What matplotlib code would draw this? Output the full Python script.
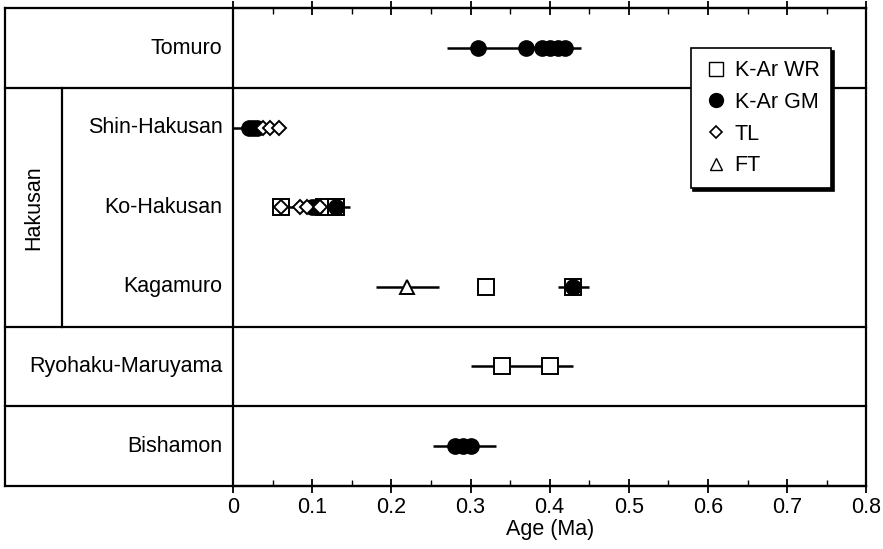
import numpy as np
import matplotlib
matplotlib.use('Agg')
import matplotlib.pyplot as plt
from matplotlib.lines import Line2D
import matplotlib.transforms as mtransforms

plt.rcParams['font.family'] = ['Liberation Sans', 'DejaVu Sans']

# row names, top to bottom
rows = ['Tomuro', 'Shin-Hakusan', 'Ko-Hakusan', 'Kagamuro', 'Ryohaku-Maruyama', 'Bishamon']
ypos = {name: len(rows) - 1 - i for i, name in enumerate(rows)}

# age ranges (error bars)
range_rows = ['Tomuro', 'Shin-Hakusan', 'Ko-Hakusan', 'Kagamuro', 'Kagamuro', 'Ryohaku-Maruyama', 'Bishamon']
range_lo = [0.27, 0.0, 0.06, 0.18, 0.41, 0.30, 0.252]
range_hi = [0.44, 0.03, 0.148, 0.26, 0.45, 0.43, 0.332]

# K-Ar whole rock
wr_rows = ['Ko-Hakusan', 'Ko-Hakusan', 'Ko-Hakusan', 'Kagamuro', 'Kagamuro', 'Ryohaku-Maruyama', 'Ryohaku-Maruyama']
wr_ages = [0.06, 0.115, 0.13, 0.32, 0.43, 0.34, 0.40]

# K-Ar groundmass
gm_rows = ['Tomuro'] * 6 + ['Shin-Hakusan'] * 3 + ['Ko-Hakusan'] * 3 + ['Kagamuro'] + ['Bishamon'] * 3
gm_ages = [0.31, 0.37, 0.39, 0.40, 0.41, 0.42,
           0.02, 0.025, 0.03,
           0.10, 0.105, 0.13,
           0.43,
           0.28, 0.29, 0.30]

# thermoluminescence
tl_rows = ['Shin-Hakusan'] * 3 + ['Ko-Hakusan'] * 4
tl_ages = [0.038, 0.047, 0.058, 0.06, 0.085, 0.093, 0.11]

# fission track
ft_rows = ['Kagamuro']
ft_ages = [0.22]

fs = 15.5

fig = plt.figure(figsize=(8.83, 5.49), dpi=100)
ax = fig.add_axes([0.264, 0.115, 0.717, 0.870])

ax.hlines([ypos[r] for r in range_rows], range_lo, range_hi, color='black', lw=1.8, zorder=2)
ax.plot(wr_ages, [ypos[r] for r in wr_rows], 's', ms=11.5, mfc='white', mec='black', mew=1.4, ls='none', zorder=3)
ax.plot(gm_ages, [ypos[r] for r in gm_rows], 'o', ms=11, mfc='black', mec='black', ls='none', zorder=4)
ax.plot(tl_ages, [ypos[r] for r in tl_rows], 'D', ms=7.5, mfc='white', mec='black', mew=1.4, ls='none', zorder=5)
ax.plot(ft_ages, [ypos[r] for r in ft_rows], '^', ms=10, mfc='white', mec='black', mew=1.4, ls='none', zorder=5)

ax.set_xlim(0, 0.8)
ax.set_ylim(-0.5, len(rows) - 0.5)
ax.set_xticks(np.arange(0, 0.81, 0.1))
ax.set_xticklabels(['0', '0.1', '0.2', '0.3', '0.4', '0.5', '0.6', '0.7', '0.8'], fontsize=fs)
ax.set_xticks(np.arange(0.05, 0.8, 0.1), minor=True)
ax.tick_params(axis='x', which='major', direction='inout', length=10, width=1.3, top=True, pad=3)
ax.tick_params(axis='x', which='minor', direction='in', length=4, width=1.0, top=True)
ax.set_yticks([])
ax.set_xlabel('Age (Ma)', fontsize=fs, labelpad=1)
for s in ax.spines.values():
    s.set_linewidth(1.6)

# left label panel
trans = mtransforms.blended_transform_factory(ax.transAxes, ax.transData)
x_out = -0.360
x_col = -0.270
top = len(rows) - 0.5
bot = -0.5
kw = dict(color='black', lw=1.6, transform=trans, clip_on=False)
ax.plot([x_out, 1], [top, top], **kw)
ax.plot([x_out, 1], [bot, bot], **kw)
ax.plot([x_out, x_out], [bot, top], **kw)
for b in [4.5, 1.5, 0.5]:
    ax.plot([x_out, 1], [b, b], **kw)
ax.plot([x_col, x_col], [1.5, 4.5], **kw)

for name in rows:
    ax.text(-0.017, ypos[name], name, transform=trans, ha='right', va='center', fontsize=fs)
ax.text((x_out + x_col) / 2, 3, 'Hakusan', transform=trans, ha='center', va='center',
        rotation=90, fontsize=fs)

handles = [
    Line2D([], [], marker='s', ls='none', ms=10, mfc='white', mec='black', mew=1.0, label='K-Ar WR'),
    Line2D([], [], marker='o', ls='none', ms=10, mfc='black', mec='black', label='K-Ar GM'),
    Line2D([], [], marker='D', ls='none', ms=6.5, mfc='white', mec='black', mew=1.2, label='TL'),
    Line2D([], [], marker='^', ls='none', ms=9, mfc='white', mec='black', mew=1.0, label='FT'),
]
leg = ax.legend(handles=handles, loc='upper right', bbox_to_anchor=(0.945, 0.916),
                fontsize=fs, frameon=True, fancybox=False, shadow={'color': 'black', 'alpha': 1},
                edgecolor='black', framealpha=1, handletextpad=0.2, borderpad=0.55,
                labelspacing=0.5, handlelength=1.3, borderaxespad=0)
leg.get_frame().set_linewidth(1.2)
leg.set_zorder(10)

fig.savefig('out.png', dpi=100)
